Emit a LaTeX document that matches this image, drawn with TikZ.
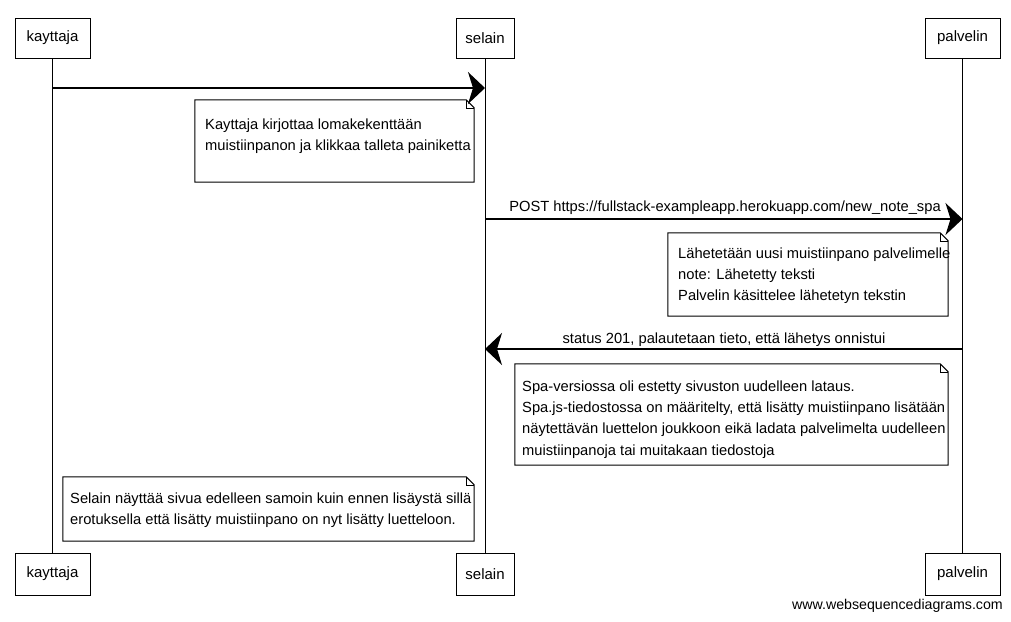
\documentclass[tikz,border=0pt]{standalone}
\usepackage{fontspec}
\setmainfont{Liberation Sans}
\usetikzlibrary{arrows.meta,calc}
\newcommand\noteframe[1]{%
  \draw[notefr] (#1.north west) -- ([xshift=-8pt]#1.north east) -- ([yshift=-8pt]#1.north east) -- (#1.south east) -- (#1.south west) -- cycle;
  \draw[notefr,line width=0.6pt] ([xshift=-8pt]#1.north east) |- ([yshift=-8pt]#1.north east);}
\begin{document}
\begin{tikzpicture}[x=1pt,y=-1pt,
  actor/.style={draw,line width=1pt,minimum height=40pt,inner sep=0pt,font=\fontsize{15}{17}\selectfont},
  lifeline/.style={line width=0.9pt},
  msg/.style={line width=1.2pt,-{Stealth[length=17pt,width=32pt,inset=5pt]}},
  notefr/.style={line width=1pt},
  notebox/.style={inner sep=0pt},
  notetext/.style={anchor=north west,align=left,inner sep=0pt,font=\fontsize{14.7}{21.3}\selectfont},
  msglabel/.style={inner sep=0pt,font=\fontsize{14.7}{17}\selectfont}]
\useasboundingbox[fill=white] (0,0) rectangle (1011,621);

% actors top
\node[actor,minimum width=75pt] (kt) at (52.5,38) {kayttaja};
\node[actor,minimum width=58pt] (st) at (485,38) {selain};
\node[actor,minimum width=75pt] (pt) at (962.5,38) {palvelin};
% actors bottom
\node[actor,minimum width=75pt,minimum height=42pt] (kb) at (52.5,574) {kayttaja};
\node[actor,minimum width=58pt,minimum height=42pt] (sb) at (485,574) {selain};
\node[actor,minimum width=75pt,minimum height=42pt] (pb) at (962.5,574) {palvelin};
% lifelines
\draw[lifeline] (kt) -- (kb);
\draw[lifeline] (st) -- (sb);
\draw[lifeline] (pt) -- (pb);

% message 1
\coordinate (k1) at (kt |- 0,88);
\coordinate (s1) at (st |- 0,88);
\draw[msg] (k1) -- (s1);

% note 1
\node[notebox,minimum width=279pt,minimum height=82pt] (n1) at (334.5,141) {};
\noteframe{n1}
\node[notetext] (t1) at (205,118.5) {Kayttaja kirjottaa lomakekenttään\\muistiinpanon ja klikkaa talleta painiketta};

% message 2
\coordinate (s2) at (st |- 0,219);
\coordinate (p2) at (pt |- 0,219);
\draw[msg] (s2) -- (p2);
\node[msglabel] (m2) at (725,208) {POST https://fullstack-exampleapp.herokuapp.com/new\_note\_spa};

% note 2
\node[notebox,minimum width=280pt,minimum height=83pt] (n2) at (808,274.5) {};
\noteframe{n2}
\node[notetext] (t2) at (678,247.5) {Lähetetään uusi muistiinpano palvelimelle\\note: Lähetetty teksti\\Palvelin käsittelee lähetetyn tekstin};

% message 3
\coordinate (p3) at (pt |- 0,349);
\coordinate (s3) at (st |- 0,349);
\draw[msg] (p3) -- (s3);
\node[msglabel] (m3) at (724,340) {status 201, palautetaan tieto, että lähetys onnistui};

% note 3
\node[notebox,minimum width=433pt,minimum height=101pt] (n3) at (731.5,414.5) {};
\noteframe{n3}
\node[notetext] (t3) at (522,380.5) {Spa-versiossa oli estetty sivuston uudelleen lataus.\\Spa.js-tiedostossa on määritelty, että lisätty muistiinpano lisätään\\näytettävän luettelon joukkoon eikä ladata palvelimelta uudelleen\\muistiinpanoja tai muitakaan tiedostoja};

% note 4
\node[notebox,minimum width=411pt,minimum height=64pt] (n4) at (268.5,509) {};
\noteframe{n4}
\node[notetext] (t4) at (70,492.5) {Selain näyttää sivua edelleen samoin kuin ennen lisäystä sillä\\erotuksella että lisätty muistiinpano on nyt lisätty luetteloon.};

\node[inner sep=0pt,anchor=east,font=\fontsize{14.2}{16}\selectfont] (w) at (1003,606) {www.websequencediagrams.com};
\end{tikzpicture}
\end{document}
